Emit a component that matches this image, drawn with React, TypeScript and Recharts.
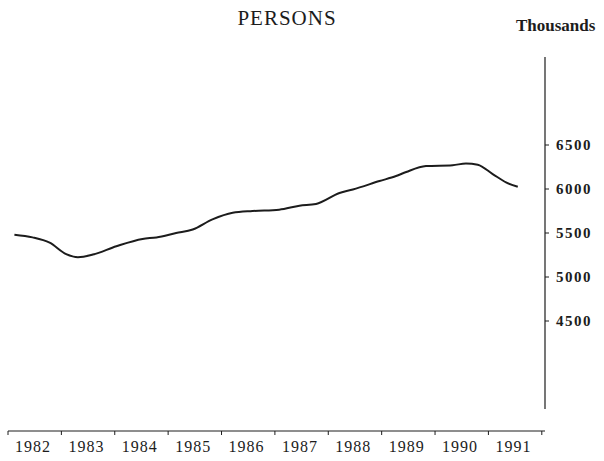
import React from 'react';
import { LineChart, Line, XAxis, YAxis, ReferenceLine } from 'recharts';

// time in fractional years, values in thousands of persons
const dates = [
  1982.12, 1982.46, 1982.78, 1983.09, 1983.31, 1983.59, 1984.03, 1984.52, 1984.78, 1985.15,
  1985.46, 1985.83, 1986.21, 1986.58, 1987.08, 1987.46, 1987.77, 1988.21, 1988.46, 1988.96,
  1989.27, 1989.46, 1989.83, 1990.33, 1990.58, 1990.8, 1991.08, 1991.33, 1991.55,
];
const persons = [
  5480, 5450, 5390, 5260, 5225, 5255, 5350, 5433, 5450, 5500,
  5540, 5655, 5730, 5750, 5765, 5810, 5830, 5955, 5995, 6090,
  6147, 6193, 6260, 6270, 6290, 6275, 6170, 6075, 6025,
];
const yearTicks = [1982, 1983, 1984, 1985, 1986, 1987, 1988, 1989, 1990, 1991, 1992];
const yearLabels = ['1982', '1983', '1984', '1985', '1986', '1987', '1988', '1989', '1990', '1991'];
const valueTicks = [4500, 5000, 5500, 6000, 6500];

const data = dates.map((t, i) => ({ t, v: persons[i] }));

const serif = '"Liberation Serif", "DejaVu Serif", serif';
const ink = '#1c1c1c';
const X_END = 1992.06;

const YearTick = ({ x, y, index }: any) => {
  if (index >= yearLabels.length) return null;
  return (
    <text x={x + 25} y={y} dy="0.71em" textAnchor="middle" fontFamily={serif} fontSize={16} fill={ink} letterSpacing={1}>
      {yearLabels[index]}
    </text>
  );
};

export default function App() {
  return (
    <div style={{ position: 'absolute', left: 0, top: 0, width: 604, height: 461, background: '#fff' }}>
      <div style={{ position: 'absolute', left: 0, width: 574, top: 6, textAlign: 'center', fontFamily: serif, fontSize: 21, color: ink, letterSpacing: 1 }}>
        PERSONS
      </div>
      <div style={{ position: 'absolute', left: 516, top: 16, fontFamily: serif, fontSize: 17, fontWeight: 'bold', color: ink }}>
        Thousands
      </div>
      <LineChart width={604} height={461} data={data} margin={{ top: 57, right: 0, bottom: 0, left: 8 }}>
        <XAxis
          dataKey="t"
          type="number"
          domain={[1982, X_END]}
          ticks={yearTicks}
          interval={0}
          height={30}
          tickSize={4}
          tickMargin={6}
          stroke={ink}
          tick={<YearTick />}
        />
        <YAxis
          orientation="right"
          type="number"
          domain={[3250, 7500]}
          ticks={valueTicks}
          interval={0}
          width={59}
          axisLine={false}
          tickSize={4}
          tickMargin={7}
          stroke={ink}
          tick={{ fontFamily: serif, fontSize: 15, fontWeight: 'bold', fill: ink, letterSpacing: 1.5 }}
        />
        <ReferenceLine
          segment={[{ x: X_END, y: 3500 }, { x: X_END, y: 7500 }]}
          stroke={ink}
          strokeWidth={1.2}
          ifOverflow="visible"
        />
        <Line
          type="monotone"
          dataKey="v"
          stroke={ink}
          strokeWidth={2}
          dot={false}
          isAnimationActive={false}
        />
      </LineChart>
    </div>
  );
}
